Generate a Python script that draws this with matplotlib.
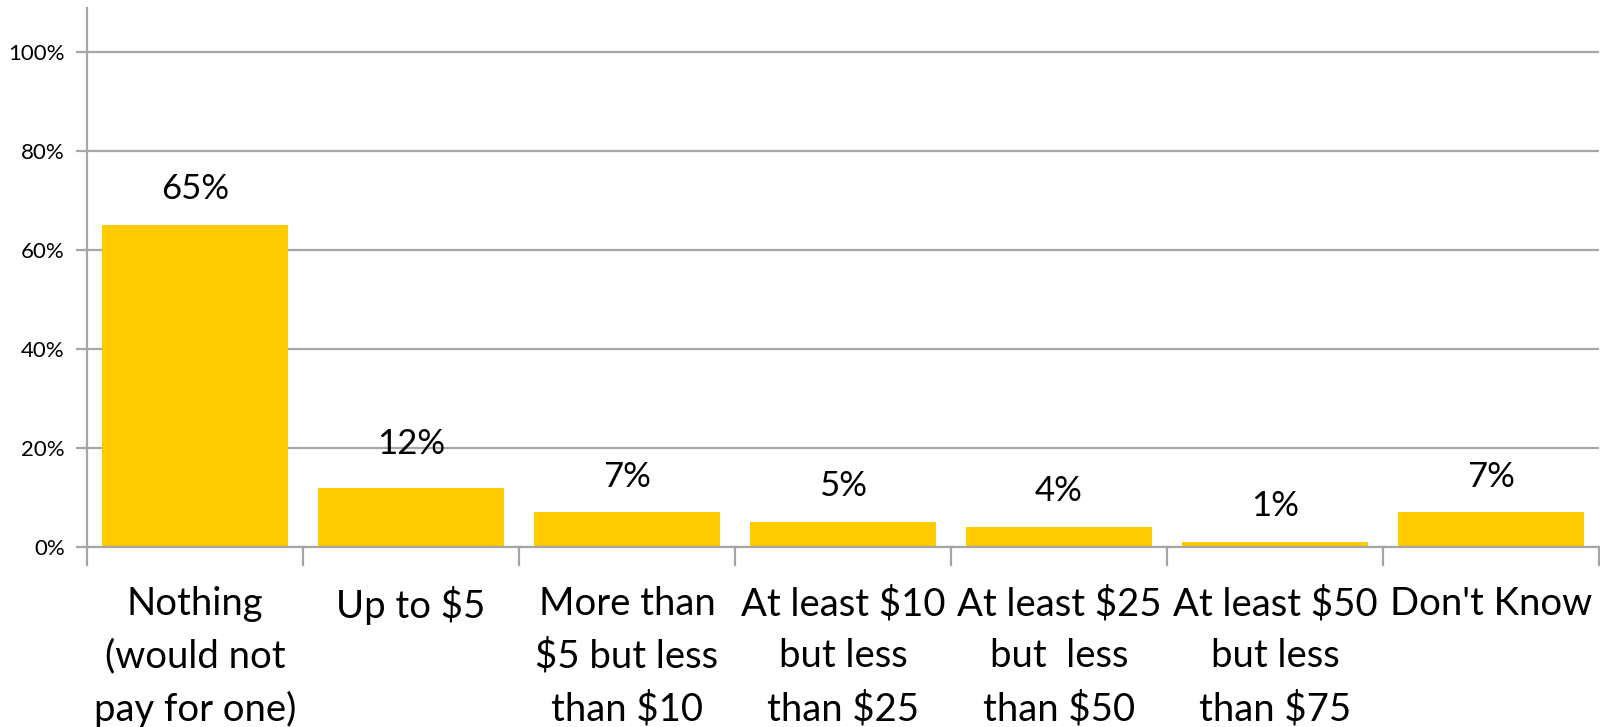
import matplotlib
matplotlib.use("Agg")
import matplotlib.pyplot as plt
import numpy as np

categories = ["Nothing\n(would not\npay for one)", "Up to $5", "More than\n$5 but less\nthan $10",
              "At least $10\nbut less\nthan $25", "At least $25\nbut  less\nthan $50",
              "At least $50\nbut less\nthan $75", "Don't Know"]
values = [65, 12, 7, 5, 4, 1, 7]
label_offsets = [4, 5.5, 4, 4, 4, 4, 4]
yticks = [0, 20, 40, 60, 80, 100]

plt.rcParams['font.family'] = ['Lato', 'DejaVu Sans']

fig = plt.figure(figsize=(16, 7.27), dpi=100)
ax = fig.add_axes([87/1600, 1 - 547/727, 1512/1600, 539/727])

x = np.arange(len(categories))
bar_color = '#FFCB00'
grid_color = '#A6A6A6'
ax.bar(x, values, width=0.857, color=bar_color, zorder=3)

for xi, v, off in zip(x, values, label_offsets):
    ax.text(xi, v + off, f"{v}%", ha='center', va='bottom', fontsize=25, color='black', zorder=4)

ax.set_xlim(-0.5, len(categories) - 0.5)
ax.set_ylim(0, 108.9)
ax.set_yticks(yticks)
ax.set_yticklabels([f"{t}%" for t in yticks], fontsize=16)
ax.yaxis.grid(True, color=grid_color, linewidth=1.6, zorder=1)
ax.tick_params(axis='y', length=8, width=1.6, color=grid_color, pad=8)

ax.set_xticks(x)
ax.set_xticklabels(categories, fontsize=27.5, linespacing=1.55)
ax.set_xticks(np.arange(-0.5, len(categories)), minor=True)
ax.tick_params(axis='x', which='major', length=0, pad=28)
ax.tick_params(axis='x', which='minor', length=14, width=1.6, color=grid_color)

for s in ['top', 'right']:
    ax.spines[s].set_visible(False)
for s in ['left', 'bottom']:
    ax.spines[s].set_color(grid_color)
    ax.spines[s].set_linewidth(1.6)
ax.spines['bottom'].set_zorder(5)

fig.savefig("out.png", dpi=100)
